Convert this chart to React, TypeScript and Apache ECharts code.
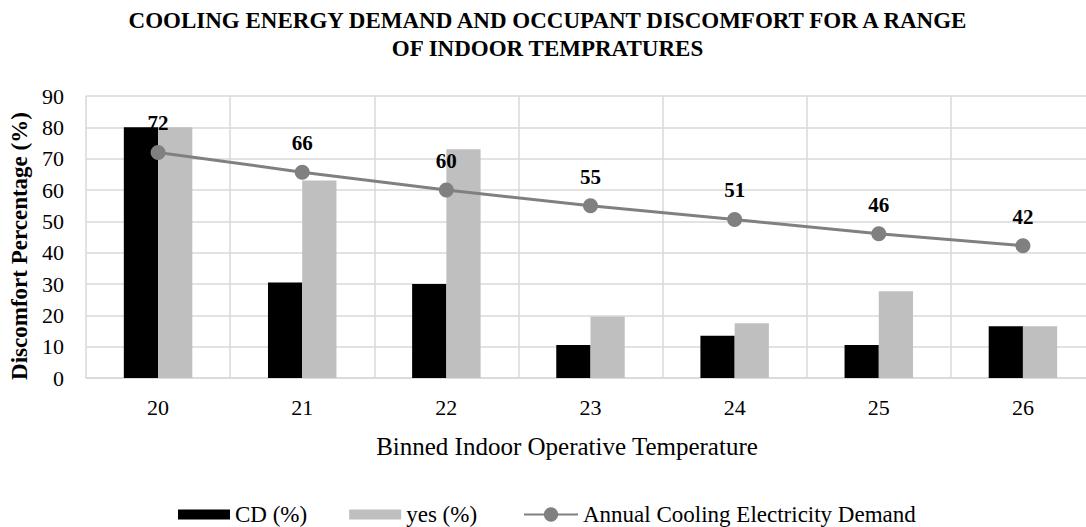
import React, { useEffect, useRef } from "react";
import * as echarts from "echarts";

const categories = ["20", "21", "22", "23", "24", "25", "26"];
const cdValues = [80, 30.5, 30, 10.5, 13.5, 10.5, 16.5];
const yesValues = [80, 63, 73, 19.6, 17.5, 27.7, 16.5];
const demandValues = [72, 65.7, 60, 55, 50.6, 46, 42.2];
const yTicks = { min: 0, max: 90, interval: 10 };

const FONT = "'Liberation Serif', 'Times New Roman', serif";

export default function App() {
  const ref = useRef<HTMLDivElement>(null);
  useEffect(() => {
    if (!ref.current) return;
    const chart = echarts.init(ref.current, undefined, { renderer: "svg" });
    chart.setOption({
      animation: false,
      backgroundColor: "#ffffff",
      textStyle: { fontFamily: FONT, color: "#000" },
      title: {
        text: "COOLING ENERGY DEMAND AND OCCUPANT DISCOMFORT FOR A RANGE\nOF INDOOR TEMPRATURES",
        left: "center",
        top: 1,
        textStyle: {
          fontFamily: FONT,
          fontSize: 23,
          fontWeight: "bold",
          color: "#000",
          lineHeight: 28,
          align: "center",
        },
      },
      legend: [
        {
          left: 173,
          top: 498,
          itemWidth: 52,
          itemHeight: 10,
          itemGap: 42,
          textStyle: { fontFamily: FONT, fontSize: 23, color: "#000" },
          data: [
            { name: "CD (%)", icon: "rect" },
            { name: "yes (%)", icon: "rect" },
          ],
        },
        {
          left: 518,
          top: 498,
          itemWidth: 54,
          itemHeight: 18,
          textStyle: { fontFamily: FONT, fontSize: 23, color: "#000" },
          data: [{ name: "Annual Cooling Electricity Demand" }],
        },
      ],
      grid: { left: 86, right: 0, top: 96, bottom: 149, containLabel: false },
      xAxis: {
        type: "category",
        data: categories,
        name: "Binned Indoor Operative Temperature",
        nameLocation: "middle",
        nameGap: 56,
        nameTextStyle: {
          fontFamily: FONT,
          fontSize: 25,
          color: "#000",
          padding: [0, 47, 0, 0],
        },
        axisLine: { show: true, lineStyle: { color: "#d9d9d9", width: 1.5 } },
        axisTick: { show: false },
        axisLabel: { fontFamily: FONT, fontSize: 22, color: "#000", margin: 18 },
        splitLine: { show: true, lineStyle: { color: "#d9d9d9", width: 1.5 } },
      },
      yAxis: {
        type: "value",
        min: yTicks.min,
        max: yTicks.max,
        interval: yTicks.interval,
        name: "Discomfort Percentage (%)",
        nameLocation: "middle",
        nameGap: 50,
        nameTextStyle: {
          fontFamily: FONT,
          fontSize: 23,
          fontWeight: "bold",
          color: "#000",
          padding: [0, 18, 0, 0],
        },
        axisLine: { show: false },
        axisTick: { show: false },
        axisLabel: { fontFamily: FONT, fontSize: 22, color: "#000", margin: 22 },
        splitLine: { show: true, lineStyle: { color: "#d9d9d9", width: 1.5 } },
      },
      series: [
        {
          name: "CD (%)",
          type: "bar",
          data: cdValues,
          barGap: "0%",
          barCategoryGap: "52.5%",
          itemStyle: { color: "#000000" },
        },
        {
          name: "yes (%)",
          type: "bar",
          data: yesValues,
          barGap: "0%",
          barCategoryGap: "52.5%",
          itemStyle: { color: "#bfbfbf" },
        },
        {
          name: "Annual Cooling Electricity Demand",
          type: "line",
          data: demandValues,
          symbol: "circle",
          symbolSize: 15,
          lineStyle: { color: "#808080", width: 3 },
          itemStyle: { color: "#808080" },
          label: {
            show: true,
            position: "top",
            distance: 11,
            fontFamily: FONT,
            fontSize: 21,
            fontWeight: "bold",
            color: "#000",
            formatter: (p: any) => String(Math.round(p.value)),
          },
          z: 5,
        },
      ],
    });
    return () => chart.dispose();
  }, []);

  return (
    <div
      style={{
        position: "absolute",
        left: 0,
        top: 0,
        width: 1086,
        height: 527,
        overflow: "hidden",
        background: "#fff",
      }}
    >
      <div ref={ref} style={{ width: 1095, height: 527 }} />
    </div>
  );
}
